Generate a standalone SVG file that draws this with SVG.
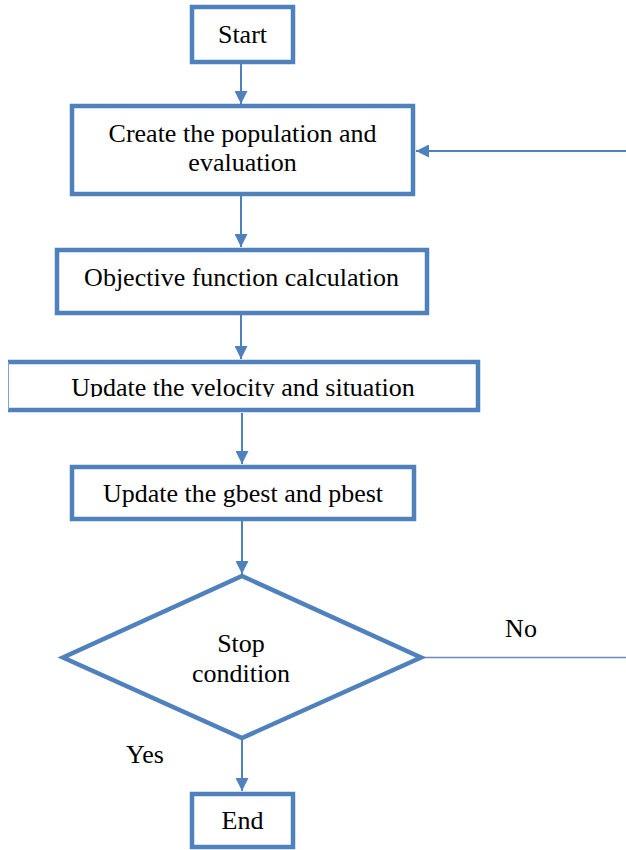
<svg xmlns="http://www.w3.org/2000/svg" width="626" height="850" viewBox="0 0 626 850">
<style>
.box{fill:#fff;stroke:#4F81BD;stroke-width:4.5}
.conn{stroke:#4F81BD;stroke-width:2;fill:none}
.t{font-family:"Liberation Serif","Times New Roman",serif;font-size:26px;fill:#000;text-anchor:middle}
</style>
<defs>
<marker id="ah" viewBox="0 0 13 13" refX="13" refY="6.5" markerWidth="13" markerHeight="13" markerUnits="userSpaceOnUse" orient="auto">
<path d="M0,0 L13,6.5 L0,13 Z" fill="#4F81BD"/>
</marker>
<clipPath id="vclip"><rect x="0" y="355" width="626" height="42"/></clipPath>
</defs>
<g id="connectors">
<line class="conn" x1="241" y1="62" x2="241" y2="104" marker-end="url(#ah)"/>
<line class="conn" x1="241" y1="196" x2="241" y2="247" marker-end="url(#ah)"/>
<line class="conn" x1="241" y1="315" x2="241" y2="359" marker-end="url(#ah)"/>
<line class="conn" x1="242" y1="413" x2="242" y2="464" marker-end="url(#ah)"/>
<line class="conn" x1="242" y1="521" x2="242" y2="574" marker-end="url(#ah)"/>
<line class="conn" x1="242" y1="740" x2="242" y2="791" marker-end="url(#ah)"/>
<line x1="422" y1="657.5" x2="626" y2="657.5" stroke="#6E8BB5" stroke-width="1.6"/>
<line class="conn" x1="626" y1="151" x2="416" y2="151" marker-end="url(#ah)"/>
<text class="t" x="521" y="637">No</text>
<text class="t" x="145" y="763">Yes</text>
</g>
<g id="start">
<rect class="box" x="192" y="7" width="101" height="55"/>
<text class="t" x="242.5" y="43">Start</text>
</g>
<g id="create">
<rect class="box" x="72" y="106" width="341" height="88"/>
<text class="t" x="242.5" y="142">Create the population and</text>
<text class="t" x="242.5" y="171">evaluation</text>
</g>
<g id="objective">
<rect class="box" x="57" y="250" width="370" height="63"/>
<text class="t" x="241.5" y="286">Objective function calculation</text>
</g>
<g id="velocity">
<path d="M8,362 H478 V410 H8" fill="#fff" stroke="#4F81BD" stroke-width="4.5"/>
<line x1="8.5" y1="362" x2="8.5" y2="410" stroke="#7FA3D0" stroke-width="1"/>
<text class="t" x="243" y="396" clip-path="url(#vclip)">Update the velocity and situation</text>
</g>
<g id="gbest">
<rect class="box" x="72" y="467" width="342" height="52"/>
<text class="t" x="243" y="502">Update the gbest and pbest</text>
</g>
<g id="stop">
<polygon class="box" points="242,576 421,657.5 242,738 63,657.5"/>
<text class="t" x="241" y="652">Stop</text>
<text class="t" x="241" y="682">condition</text>
</g>
<g id="end">
<rect class="box" x="192" y="794" width="101" height="53"/>
<text class="t" x="242.5" y="829">End</text>
</g>
</svg>
